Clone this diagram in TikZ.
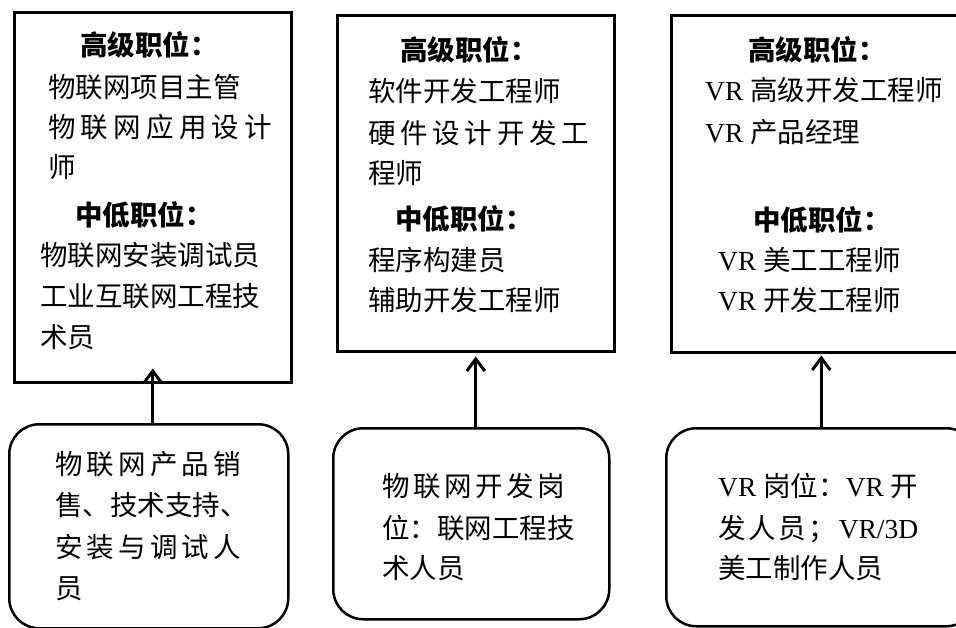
\documentclass[tikz,border=0pt]{standalone}
\usepackage{fontspec}
\setmainfont{Liberation Serif}
\newfontfamily\cjk{Noto Sans CJK SC}
\usetikzlibrary{arrows.meta}
\newcommand\spr[2]{\makebox[#1pt][s]{#2}}
\begin{document}
\begin{tikzpicture}[x=1pt,y=-1pt,
  box/.style={draw, line width=2.5pt, inner sep=0pt, anchor=north west},
  rbox/.style={draw, line width=2.5pt, rounded corners=30pt, inner sep=0pt, anchor=north west},
  txt/.style={anchor=base west, inner sep=0pt, font=\fontsize{27.5}{32}\selectfont\cjk},
  head/.style={anchor=base west, inner sep=0pt, font=\fontsize{27.5}{32}\selectfont\cjk\bfseries},
  vtxt/.style={anchor=base west, inner sep=0pt, font=\fontsize{27.5}{32}\selectfont},
  link/.style={line width=3pt, -{Straight Barb[length=12pt,width=18pt,line width=3pt]}}]
\useasboundingbox (0,0) rectangle (956,627);

% boxes
\node[box, minimum width=277pt, minimum height=370pt] (b1) at (13,11) {};
\node[box, minimum width=277pt, minimum height=336pt] (b2) at (336,14) {};
\node[box, minimum width=300pt, minimum height=337pt] (b3) at (670,14) {};
\node[rbox, minimum width=279pt, minimum height=204pt] (r1) at (8,423) {};
\node[rbox, minimum width=276pt, minimum height=191pt] (r2) at (332,427) {};
\node[rbox, minimum width=310pt, minimum height=198pt] (r3) at (665,427) {};

% arrows
\draw[link, shorten >=-15pt] (b1.south |- r1.north) -- (b1.south);
\draw[link, shorten >=4pt] (b2.south |- r2.north) -- (b2.south);
\draw[link, shorten >=2pt] (b3.south |- r3.north) -- (b3.south);

% box 1
\node[head] (t1a) at (80,55) {高级职位：};
\node[txt] (t1b) at (48,97) {物联网项目主管};
\node[txt] (t1c) at (48,137) {\spr{224}{物\hfill 联\hfill 网\hfill 应\hfill 用\hfill 设\hfill 计}};
\node[txt] (t1d) at (48,177) {师};
\node[head] (t1e) at (75,225) {中低职位：};
\node[txt] (t1f) at (40,265) {物联网安装调试员};
\node[txt] (t1g) at (40,306) {工业互联网工程技};
\node[txt] (t1h) at (40,347) {术员};

% box 2
\node[head] (t2a) at (400,60) {高级职位：};
\node[txt] (t2b) at (368,101) {软件开发工程师};
\node[txt] (t2c) at (368,143) {\spr{221}{硬\hfill 件\hfill 设\hfill 计\hfill 开\hfill 发\hfill 工}};
\node[txt] (t2d) at (368,183) {程师};
\node[head] (t2e) at (395,229) {中低职位：};
\node[txt] (t2f) at (368,270) {程序构建员};
\node[txt] (t2g) at (368,310) {辅助开发工程师};

% box 3
\node[head] (t3a) at (748,60) {高级职位：};
\node[vtxt] (t3b) at (705,100) {VR {\cjk 高级开发工程师}};
\node[vtxt] (t3c) at (705,142) {VR {\cjk 产品经理}};
\node[head] (t3d) at (753,230) {中低职位：};
\node[vtxt] (t3e) at (718,270) {VR {\cjk 美工工程师}};
\node[vtxt] (t3f) at (718,310) {VR {\cjk 开发工程师}};

% box 4
\node[txt] (t4a) at (55,474) {\spr{186}{物\hfill 联\hfill 网\hfill 产\hfill 品\hfill 销}};
\node[txt] (t4b) at (55,515) {售、技术支持、};
\node[txt] (t4c) at (55,557) {\spr{186}{安\hfill 装\hfill 与\hfill 调\hfill 试\hfill 人}};
\node[txt] (t4d) at (55,598) {员};

% box 5
\node[txt] (t5a) at (382,496) {\spr{183}{物\hfill 联\hfill 网\hfill 开\hfill 发\hfill 岗}};
\node[txt] (t5b) at (382,538) {位：联网工程技};
\node[txt] (t5c) at (382,578) {术人员};

% box 6
\node[vtxt] (t6a) at (718,496) {VR {\cjk 岗位：}VR {\cjk 开}};
\node[vtxt] (t6b) at (718,538) {\spr{200}{{\cjk 发}\hfill{\cjk 人}\hfill{\cjk 员}\hfill{\cjk ；}\hfill VR/3D}};
\node[vtxt] (t6c) at (718,578) {{\cjk 美工制作人员}};
\end{tikzpicture}
\end{document}
